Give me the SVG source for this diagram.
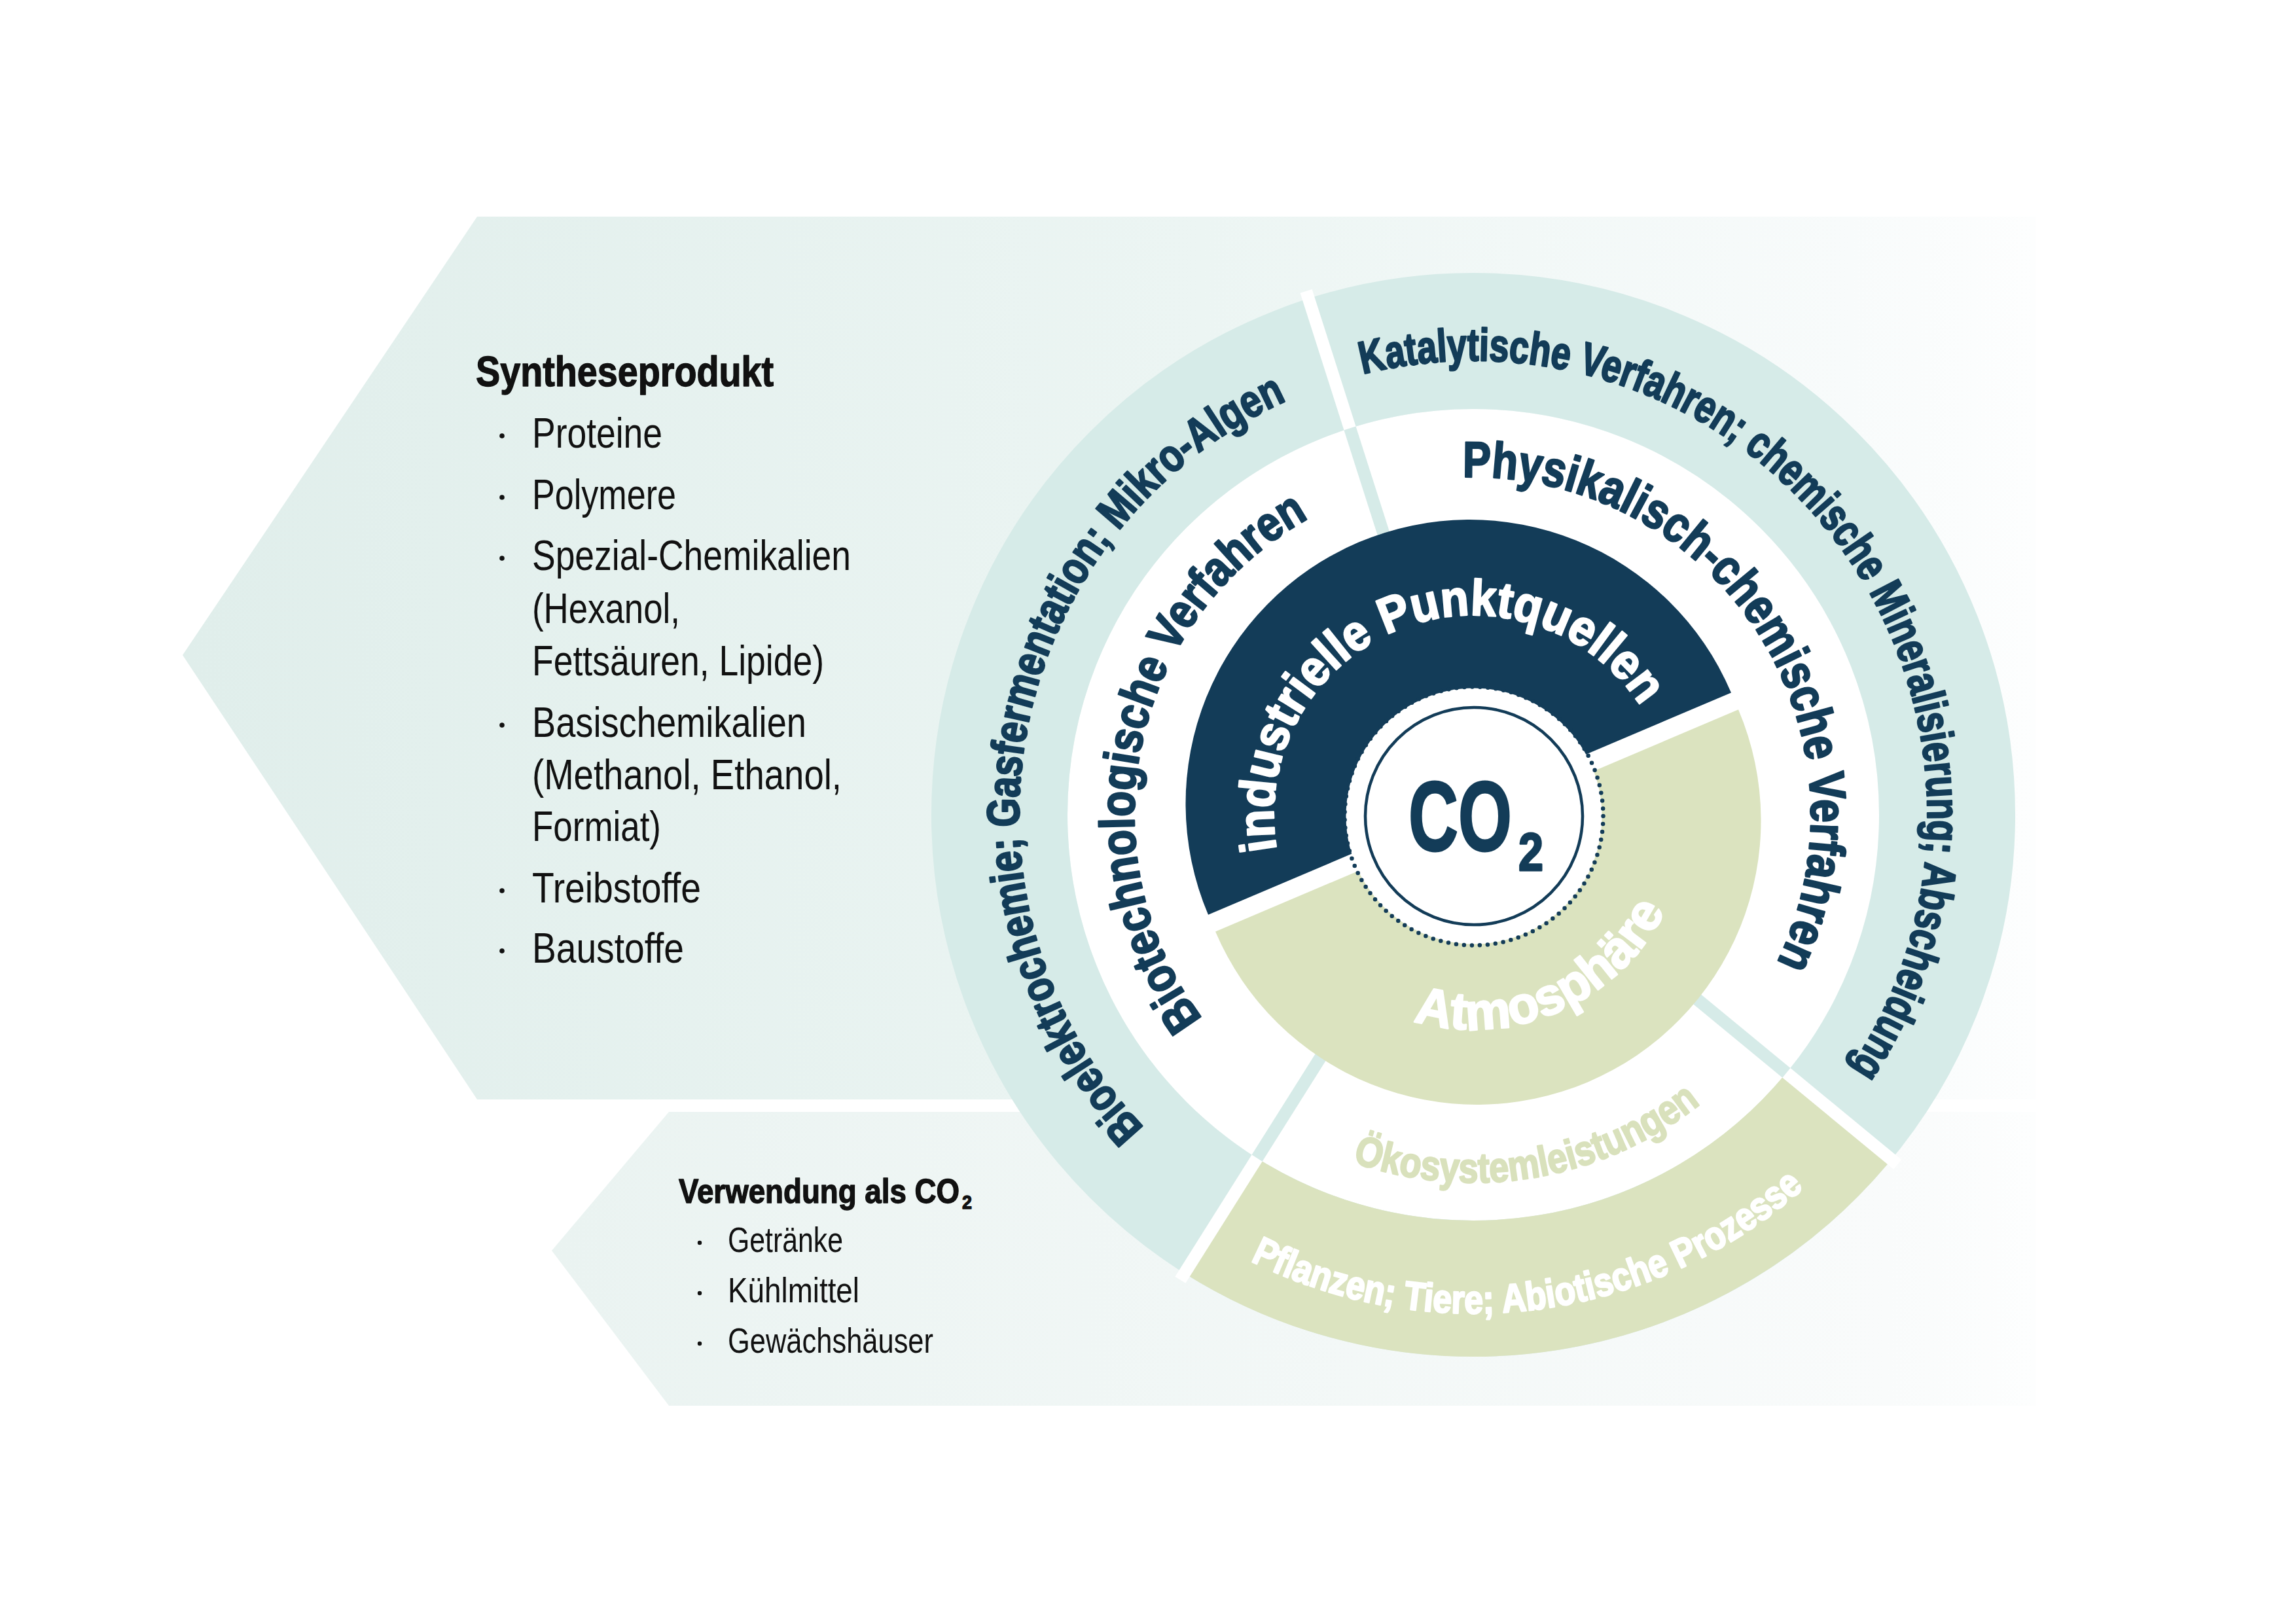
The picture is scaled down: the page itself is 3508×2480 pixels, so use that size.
<svg xmlns="http://www.w3.org/2000/svg" width="3508" height="2480" viewBox="0 0 3508 2480">
<defs>
<linearGradient id="gTop" x1="279" y1="0" x2="3110" y2="0" gradientUnits="userSpaceOnUse">
<stop offset="0" stop-color="#e0eeeb"/>
<stop offset="0.55" stop-color="#ecf5f3"/>
<stop offset="0.9" stop-color="#f8fbfb"/>
<stop offset="1" stop-color="#fdfefe"/>
</linearGradient>
<linearGradient id="gBot" x1="843" y1="0" x2="3110" y2="0" gradientUnits="userSpaceOnUse">
<stop offset="0" stop-color="#eaf3f1"/>
<stop offset="0.9" stop-color="#f9fbfb"/>
<stop offset="1" stop-color="#fdfefe"/>
</linearGradient>
<path id="arc305" d="M1950.63,1297.96 A305,305 0 1 1 2551.37,1297.96"/>
<path id="arc516" d="M1742.84,1334.6 A516,516 0 1 1 2759.16,1334.6"/>
<path id="arc518" d="M1740.87,1334.95 A518,518 0 1 1 2761.13,1334.95"/>
<path id="arc694" d="M1567.54,1365.51 A694,694 0 1 1 2934.46,1365.51"/>
<path id="arcB328" d="M1927.98,1188.04 A328,328 0 1 0 2574.02,1188.04"/>
<path id="arcB562" d="M1697.54,1147.41 A562,562 0 1 0 2804.46,1147.41"/>
<path id="arcB762" d="M1500.57,1112.68 A762,762 0 1 0 3001.43,1112.68"/>
</defs>
<style>
.b{font-family:"Liberation Sans Narrow","Liberation Sans",Arial,sans-serif;font-weight:700}
.r{font-family:"Liberation Sans Narrow","Liberation Sans",Arial,sans-serif;font-weight:400}
.navy{fill:#133c58}
.teal{fill:#d6ebe8}
.green{fill:#dbe3bf}
.wht{fill:#ffffff}
.blk{fill:#111111}
.arcT{text-anchor:middle;stroke-linejoin:round}
.sN{stroke:#133c58;stroke-width:2.6}
.sW{stroke:#ffffff;stroke-width:2.6}
.sG{stroke:#d9e1bc;stroke-width:2.4}
.sK{stroke:#111111;stroke-width:1.4;stroke-linejoin:round}
</style>
<rect width="3508" height="2480" fill="#ffffff"/>

<g id="band-syntheseprodukt">
<polygon points="729,331 3110,331 3110,1680 729,1680 279,1001" fill="url(#gTop)"/>
<text class="b blk sK" x="727" y="590" font-size="65" textLength="455" lengthAdjust="spacingAndGlyphs">Syntheseprodukt</text>
<g class="blk">
<circle cx="767" cy="666" r="3.8"/>
<circle cx="767" cy="760" r="3.8"/>
<circle cx="767" cy="853" r="3.8"/>
<circle cx="767" cy="1108" r="3.8"/>
<circle cx="767" cy="1361" r="3.8"/>
<circle cx="767" cy="1453" r="3.8"/>
</g>
<g class="r blk" font-size="65">
<text x="813" y="684" textLength="199" lengthAdjust="spacingAndGlyphs">Proteine</text>
<text x="813" y="778" textLength="220" lengthAdjust="spacingAndGlyphs">Polymere</text>
<text x="813" y="871" textLength="487" lengthAdjust="spacingAndGlyphs">Spezial-Chemikalien</text>
<text x="813" y="952" textLength="226" lengthAdjust="spacingAndGlyphs">(Hexanol,</text>
<text x="813" y="1032" textLength="446" lengthAdjust="spacingAndGlyphs">Fettsäuren, Lipide)</text>
<text x="813" y="1126" textLength="419" lengthAdjust="spacingAndGlyphs">Basischemikalien</text>
<text x="813" y="1206" textLength="473" lengthAdjust="spacingAndGlyphs">(Methanol, Ethanol,</text>
<text x="813" y="1285" textLength="197" lengthAdjust="spacingAndGlyphs">Formiat)</text>
<text x="813" y="1379" textLength="258" lengthAdjust="spacingAndGlyphs">Treibstoffe</text>
<text x="813" y="1471" textLength="232" lengthAdjust="spacingAndGlyphs">Baustoffe</text>
</g>
</g>

<g id="band-verwendung">
<polygon points="1022,1699 3110,1699 3110,2148 1022,2148 843,1911" fill="url(#gBot)"/>
<text class="b blk sK" x="1037" y="1838" font-size="52"><tspan textLength="429" lengthAdjust="spacingAndGlyphs">Verwendung als CO</tspan><tspan x="1470" y="1847" font-size="30" textLength="15" lengthAdjust="spacingAndGlyphs">2</tspan></text>
<g class="blk">
<circle cx="1069" cy="1899" r="3.2"/>
<circle cx="1069" cy="1976" r="3.2"/>
<circle cx="1069" cy="2053" r="3.2"/>
</g>
<g class="r blk" font-size="54">
<text x="1112" y="1913" textLength="176" lengthAdjust="spacingAndGlyphs">Getränke</text>
<text x="1112" y="1990" textLength="201" lengthAdjust="spacingAndGlyphs">Kühlmittel</text>
<text x="1112" y="2067" textLength="314" lengthAdjust="spacingAndGlyphs">Gewächshäuser</text>
</g>
</g>

<g id="ring-base">
<circle cx="2251" cy="1245" r="620" fill="#ffffff"/>
<circle cx="2251" cy="1245" r="724" fill="none" stroke="#d6ebe8" stroke-width="208"/>
</g>

<g id="outer-green-pflanzen">
<path d="M1865.21,1857.64 A724,724 0 0 0 2809.65,1705.52" fill="none" stroke="#dbe3bf" stroke-width="208"/>
</g>

<g id="dividers">
<g transform="translate(2251 1245) rotate(-107.7)">
<rect x="615" y="-9.5" width="225" height="19" class="wht"/>
<rect x="420" y="-9.5" width="200" height="19" class="teal"/>
</g>
<g transform="translate(2251 1245) rotate(-237.8)">
<rect x="615" y="-9.5" width="225" height="19" class="wht"/>
<rect x="420" y="-9.5" width="200" height="19" class="teal"/>
</g>
<g transform="translate(2251 1245) rotate(39.5)">
<rect x="615" y="-9.5" width="225" height="19" class="wht"/>
<rect x="420" y="-9.5" width="200" height="19" class="teal"/>
</g>
</g>

<g id="node-industrielle">
<path d="M1846.0,1397.7 A434,434 0 0 1 2645.0,1058.5 Z" class="navy"/>
<text class="b wht arcT sW" font-size="77" transform="rotate(-21.5 2251 1245)"><textPath href="#arc305" startOffset="50%" textLength="836" lengthAdjust="spacingAndGlyphs">industrielle Punktquellen</textPath></text>
</g>

<g id="node-atmosphaere">
<path d="M2656.0,1084.3 A434,434 0 0 1 1857.0,1423.5 Z" class="green"/>
<text class="b wht arcT sW" font-size="80" transform="rotate(-23.6 2251 1245)"><textPath href="#arcB328" startOffset="50%" textLength="456" lengthAdjust="spacingAndGlyphs">Atmosphäre</textPath></text>
</g>

<g id="node-co2">
<circle cx="2252" cy="1247" r="195.5" fill="#ffffff"/>
<circle cx="2252" cy="1247" r="197.5" fill="none" stroke="#133c58" stroke-width="6.5" stroke-linecap="round" stroke-dasharray="0 12.048"/>
<circle cx="2252" cy="1247" r="166" fill="none" stroke="#133c58" stroke-width="4.5"/>
<text class="b navy" x="2152" y="1300" font-size="150" stroke="#133c58" stroke-width="3" stroke-linejoin="round"><tspan textLength="158" lengthAdjust="spacingAndGlyphs">CO</tspan><tspan x="2320" y="1330" font-size="82" textLength="38" lengthAdjust="spacingAndGlyphs">2</tspan></text>
</g>

<g id="node-biotech">
<text class="b navy arcT sN" font-size="75" transform="rotate(-78 2251 1245)"><textPath href="#arc518" startOffset="50%" textLength="886" lengthAdjust="spacingAndGlyphs">Biotechnologische Verfahren</textPath></text>
</g>

<g id="node-physikalisch">
<text class="b navy arcT sN" font-size="77" transform="rotate(57.1 2251 1245)"><textPath href="#arc516" startOffset="50%" textLength="1061" lengthAdjust="spacingAndGlyphs">Physikalisch-chemische Verfahren</textPath></text>
</g>

<g id="node-oekosystem">
<text class="b arcT sG" fill="#d9e1bc" font-size="64" transform="rotate(-9.5 2251 1245)"><textPath href="#arcB562" startOffset="50%" textLength="563" lengthAdjust="spacingAndGlyphs">Ökosystemleistungen</textPath></text>
</g>

<g id="node-katalytisch">
<text class="b navy arcT sN" font-size="70" transform="rotate(54.95 2251 1245)"><textPath href="#arc694" startOffset="50%" textLength="1672" lengthAdjust="spacingAndGlyphs">Katalytische Verfahren; chemische Mineralisierung; Abscheidung</textPath></text>
</g>

<g id="node-bioelektro">
<text class="b navy arcT sN" font-size="70" transform="rotate(-78.9 2251 1245)"><textPath href="#arc694" startOffset="50%" textLength="1324" lengthAdjust="spacingAndGlyphs">Bioelektrochemie; Gasfermentation; Mikro-Algen</textPath></text>
</g>

<g id="node-pflanzen">
<text class="b wht arcT sW" font-size="61" transform="rotate(-7.5 2251 1245)"><textPath href="#arcB762" startOffset="50%" textLength="906" lengthAdjust="spacingAndGlyphs">Pflanzen; Tiere; Abiotische Prozesse</textPath></text>
</g>
</svg>
